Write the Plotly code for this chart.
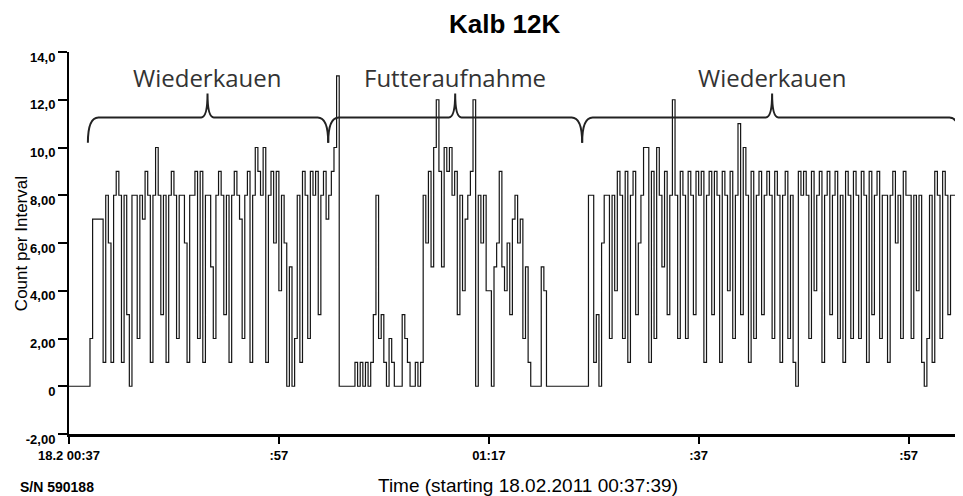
import plotly.graph_objects as go

# ---- data (count per 15-second interval) ----
step_min = 0.25
counts = [
    0,0,0,0,0,0,0,0,2,7,7,7,7,1,8,6,1,8,9,8,
    1,8,3,0,8,8,2,8,7,9,8,1,8,10,8,3,8,1,8,9,
    8,2,8,8,6,1,8,8,9,2,9,1,8,8,5,2,8,9,8,3,
    8,1,8,9,8,7,2,8,9,1,8,10,9,8,10,1,8,9,6,9,
    4,8,6,0,5,0,2,8,1,9,8,2,9,8,9,3,8,9,7,8,
    9,10,13,0,0,0,0,0,0,1,0,1,0,1,0,1,3,8,2,3,
    1,0,2,1,0,0,0,3,2,1,0,0,1,0,1,8,6,9,5,10,
    12,9,5,10,9,10,8,9,3,8,4,7,8,9,12,0,8,6,8,4,
    4,0,5,6,9,5,4,6,3,7,8,6,7,2,5,1,0,0,0,0,
    5,4,0,0,0,0,0,0,0,0,0,0,0,0,0,0,0,0,8,8,
    1,3,0,6,8,8,2,8,4,9,8,2,9,1,8,9,3,6,8,10,
    10,1,9,2,10,8,5,9,3,8,12,8,2,9,8,2,9,8,3,9,
    8,9,1,8,9,3,9,8,1,9,8,4,9,2,8,11,3,10,8,1,
    9,2,8,9,3,8,9,8,2,9,8,1,8,9,2,8,1,0,9,8,
    9,8,2,9,4,8,9,1,8,9,3,8,9,2,8,1,9,8,2,9,
    8,2,9,8,1,9,3,8,9,2,8,8,1,8,9,6,8,2,9,8,
    8,2,8,4,8,1,0,2,8,1,9,8,2,9,8,3,8,8,9,8,
]
minutes = [i * step_min for i in range(len(counts))]

x_tick_vals = [0, 20, 40, 60, 80]
x_tick_text = ["18.2 00:37", ":57", "01:17", ":37", ":57"]
y_tick_vals = [-2, 0, 2, 4, 6, 8, 10, 12, 14]
y_tick_text = ["-2,00", "0", "2,00", "4,00", "6,00", "8,00", "10,0", "12,0", "14,0"]

phase_labels = ["Wiederkauen", "Futteraufnahme", "Wiederkauen"]
phase_start = [1.8, 24.7, 48.9]
phase_mid = [13.2, 36.8, 67.0]
phase_end = [24.7, 48.9, 84.9]

SANS = "Liberation Sans, Arial"

# ---- figure ----
fig = go.Figure()
fig.add_trace(go.Scatter(
    x=minutes, y=counts, mode="lines", line_shape="hv",
    line=dict(color="#151515", width=1.2), hoverinfo="skip", showlegend=False,
))

yb, yl, yt, ylab = 10.2, 11.26, 12.26, 12.95
for lab, x0, xm, x1 in zip(phase_labels, phase_start, phase_mid, phase_end):
    path = (f"M {x0},{yb} Q {x0},{yl} {x0+1.0},{yl} L {xm-0.6},{yl} "
            f"Q {xm},{yl} {xm},{yt} Q {xm},{yl} {xm+0.6},{yl} "
            f"L {x1-1.0},{yl} Q {x1},{yl} {x1},{yb}")
    fig.add_shape(type="path", path=path, xref="x", yref="y",
                  line=dict(color="#222", width=2))
    fig.add_annotation(x=xm, y=ylab, xref="x", yref="y", text=lab, showarrow=False,
                       font=dict(family="Open Sans, DejaVu Sans", size=24, color="#333"))

# title
fig.add_annotation(x=0.4887, y=1.0, xref="paper", yref="paper", yshift=28,
                   text="<b>Kalb 12K</b>", showarrow=False, yanchor="middle",
                   font=dict(family=SANS, size=26, color="black"))
# y-axis title
fig.add_annotation(x=0, y=0.497, xref="paper", yref="paper", xshift=-48,
                   text="Count per Interval", showarrow=False, textangle=-90,
                   xanchor="center", yanchor="middle",
                   font=dict(family=SANS, size=17, color="black"))
# x-axis title
fig.add_annotation(x=0.515, y=0, xref="paper", yref="paper", yshift=-51,
                   text="Time (starting 18.02.2011 00:37:39)", showarrow=False,
                   xanchor="center", yanchor="middle",
                   font=dict(family=SANS, size=19, color="black"))
# serial number
fig.add_annotation(x=0, y=0, xref="paper", yref="paper", xshift=-51, yshift=-53,
                   text="S/N 590188", showarrow=False, xanchor="left", yanchor="middle",
                   font=dict(family=SANS, size=14, color="black", weight="bold"))

fig.update_layout(
    width=955, height=488,
    margin=dict(l=61, r=2, t=44, b=62, autoexpand=False),
    paper_bgcolor="white", plot_bgcolor="white",
    xaxis=dict(
        range=[0, 85], tickvals=x_tick_vals, ticktext=x_tick_text, automargin=False,
        showgrid=False, zeroline=False, showline=True, linecolor="black", linewidth=3,
        ticks="outside", ticklen=7, tickwidth=1.5, tickcolor="black",
        tickfont=dict(family=SANS, size=13, color="black", weight="bold"),
    ),
    yaxis=dict(
        range=[-2, 14], tickvals=y_tick_vals, ticktext=y_tick_text, automargin=False,
        showgrid=False, zeroline=False, showline=True, linecolor="black", linewidth=2,
        ticks="outside", ticklen=9, tickwidth=1.5, tickcolor="black",
        ticklabelshift=5, ticklabelstandoff=0,
        tickfont=dict(family=SANS, size=13, color="black", weight="bold"),
    ),
)

fig.write_html("out.html")
